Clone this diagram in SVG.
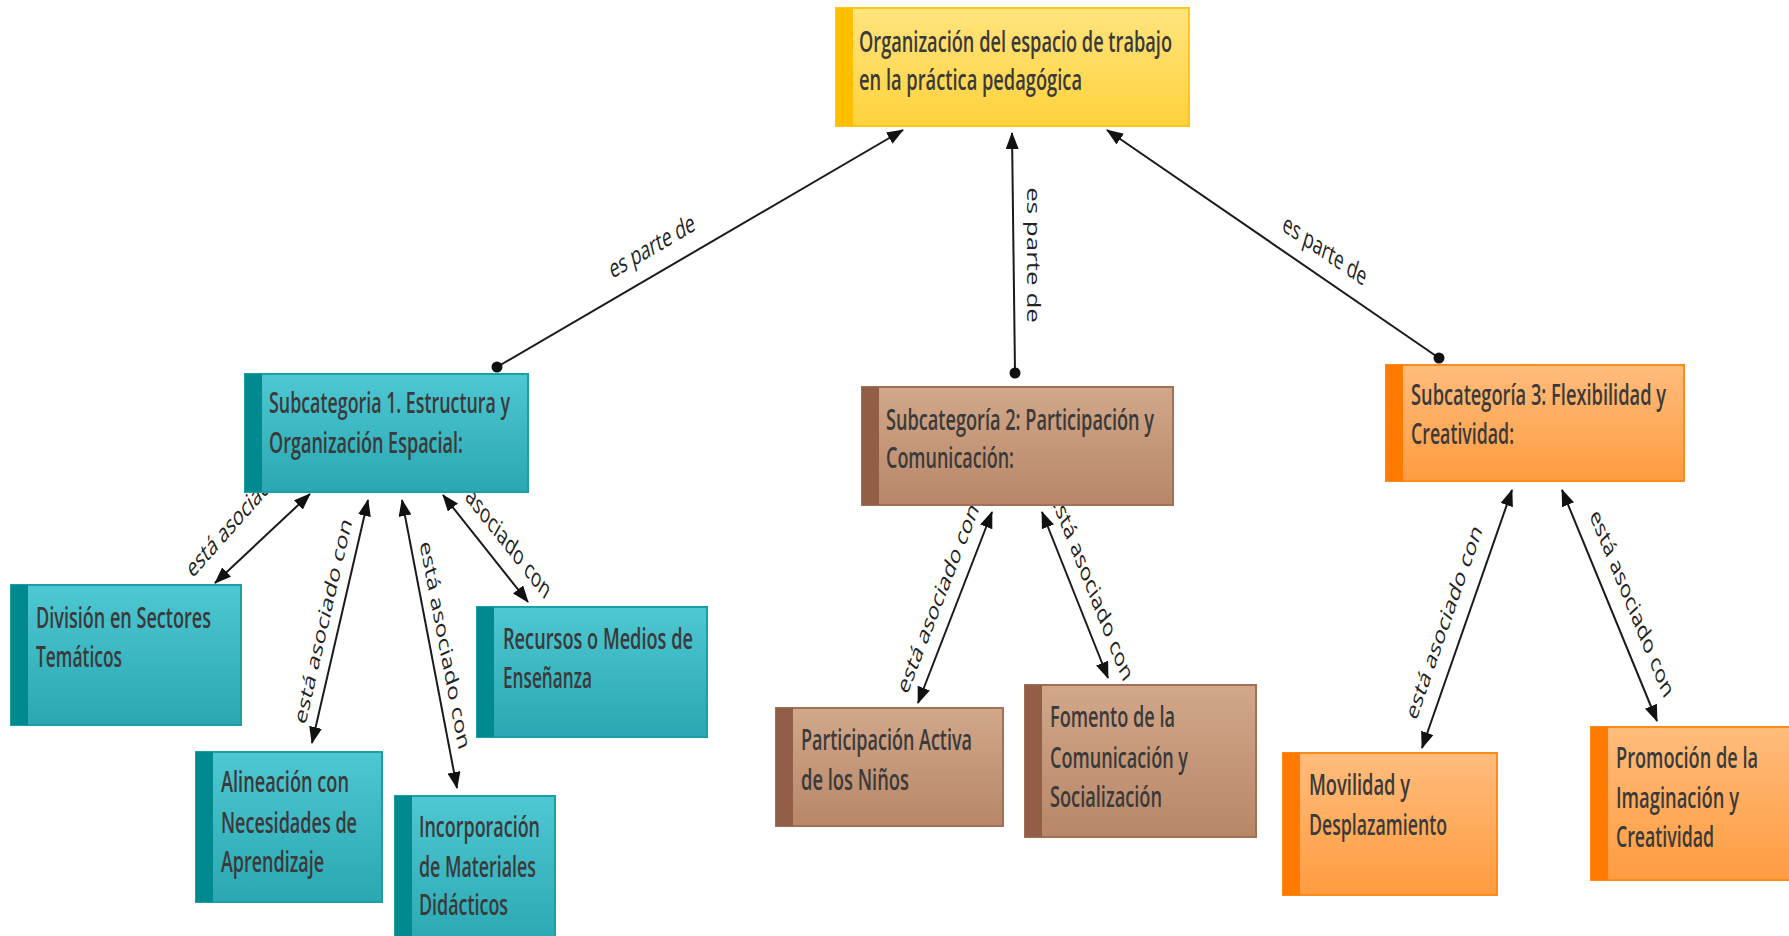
<svg xmlns="http://www.w3.org/2000/svg" width="1789" height="936" viewBox="0 0 1789 936">
<defs>
<linearGradient id="gY" x1="0" y1="0" x2="0" y2="1"><stop offset="0" stop-color="#ffe47e"/><stop offset="1" stop-color="#ffd23c"/></linearGradient>
<linearGradient id="gT" x1="0" y1="0" x2="0" y2="1"><stop offset="0" stop-color="#4ec8d2"/><stop offset="1" stop-color="#2aa7b2"/></linearGradient>
<linearGradient id="gB" x1="0" y1="0" x2="0" y2="1"><stop offset="0" stop-color="#d2a78a"/><stop offset="1" stop-color="#b78767"/></linearGradient>
<linearGradient id="gO" x1="0" y1="0" x2="0" y2="1"><stop offset="0" stop-color="#ffbc7c"/><stop offset="1" stop-color="#ff9c40"/></linearGradient>
<marker id="arr" viewBox="0 0 17 13" refX="16" refY="6.5" markerWidth="17" markerHeight="13" markerUnits="userSpaceOnUse" orient="auto-start-reverse"><path d="M0,0 L17,6.5 L0,13 z" fill="#111"/></marker>
<marker id="dot" viewBox="0 0 12 12" refX="6" refY="6" markerWidth="12" markerHeight="12" markerUnits="userSpaceOnUse"><circle cx="6" cy="6" r="5.5" fill="#111"/></marker>
<style>
.ln{stroke:#1a1a1a;stroke-width:2;fill:none}
.bi{marker-start:url(#arr);marker-end:url(#arr)}
.up{marker-start:url(#dot);marker-end:url(#arr)}
.lbl{font-family:"Open Sans","Liberation Sans",sans-serif;font-size:26px;fill:#222;text-anchor:middle}
.t{font-family:"Open Sans","Liberation Sans",sans-serif;font-size:28px;font-weight:600;fill:#3a3a3a}
.ny rect.b{fill:url(#gY);stroke:#ffc519;stroke-width:2}
.ny rect.s{fill:#ffbf00}
.nt rect.b{fill:url(#gT);stroke:#1c9ea6;stroke-width:2}
.nt rect.s{fill:#00898e}
.nb rect.b{fill:url(#gB);stroke:#a26f57;stroke-width:2}
.nb rect.s{fill:#935e48}
.no rect.b{fill:url(#gO);stroke:#ff8a1c;stroke-width:2}
.no rect.s{fill:#ff7a00}
</style>
</defs>
<rect width="1789" height="936" fill="#ffffff"/>

<g id="connectors">
<line class="ln up" x1="497" y1="367" x2="903" y2="130"/>
<line class="ln up" x1="1015" y1="373" x2="1012" y2="133"/>
<line class="ln up" x1="1439" y1="358" x2="1107" y2="130"/>
<line class="ln bi" x1="310" y1="494" x2="215" y2="583"/>
<line class="ln bi" x1="368" y1="500" x2="312" y2="743"/>
<line class="ln bi" x1="402" y1="500" x2="457" y2="788"/>
<line class="ln bi" x1="443" y1="495" x2="528" y2="602"/>
<line class="ln bi" x1="992" y1="512" x2="918" y2="703"/>
<line class="ln bi" x1="1042" y1="512" x2="1108" y2="678"/>
<line class="ln bi" x1="1512" y1="490" x2="1422" y2="748"/>
<line class="ln bi" x1="1562" y1="490" x2="1657" y2="721"/>
<text class="lbl" transform="translate(652,246) scale(0.667,1) rotate(-21.3)" y="9">es parte de</text>
<text class="lbl" transform="translate(1033,255) scale(0.667,1) rotate(90)" y="9">es parte de</text>
<text class="lbl" transform="translate(1325,250) scale(0.667,1) rotate(24.6)" y="9">es parte de</text>
<text class="lbl" transform="translate(246,507) scale(0.667,1) rotate(-37)" y="9">está asociado con</text>
<text class="lbl" transform="translate(323,621) scale(0.667,1) rotate(-71)" y="9">está asociado con</text>
<text class="lbl" transform="translate(445,645) scale(0.667,1) rotate(74.1)" y="9">está asociado con</text>
<text class="lbl" transform="translate(494,524) scale(0.667,1) rotate(40.1)" y="9">está asociado con</text>
<text class="lbl" transform="translate(938,598) scale(0.667,1) rotate(-59.8)" y="9">está asociado con</text>
<text class="lbl" transform="translate(1092,586) scale(0.667,1) rotate(59.2)" y="9">está asociado con</text>
<text class="lbl" transform="translate(1444,622) scale(0.667,1) rotate(-62.4)" y="9">está asociado con</text>
<text class="lbl" transform="translate(1632,603) scale(0.667,1) rotate(58.4)" y="9">está asociado con</text>
</g>

<g id="n-top" class="ny">
<rect class="b" x="836" y="8" width="353" height="118"/><rect class="s" x="836" y="8" width="17" height="118"/>
<text class="t" x="859" y="52" textLength="313" lengthAdjust="spacingAndGlyphs">Organización del espacio de trabajo</text>
<text class="t" x="859" y="90" textLength="223" lengthAdjust="spacingAndGlyphs">en la práctica pedagógica</text>
</g>

<g id="n-s1" class="nt">
<rect class="b" x="245" y="374" width="283" height="118"/><rect class="s" x="245" y="374" width="17" height="118"/>
<text class="t" x="269" y="413" textLength="241" lengthAdjust="spacingAndGlyphs">Subcategoria 1. Estructura y</text>
<text class="t" x="269" y="453" textLength="194" lengthAdjust="spacingAndGlyphs">Organización Espacial:</text>
</g>

<g id="n-s2" class="nb">
<rect class="b" x="862" y="387" width="311" height="118"/><rect class="s" x="862" y="387" width="17" height="118"/>
<text class="t" x="886" y="430" textLength="268" lengthAdjust="spacingAndGlyphs">Subcategoría 2: Participación y</text>
<text class="t" x="886" y="468" textLength="128" lengthAdjust="spacingAndGlyphs">Comunicación:</text>
</g>

<g id="n-s3" class="no">
<rect class="b" x="1386" y="365" width="298" height="116"/><rect class="s" x="1386" y="365" width="17" height="116"/>
<text class="t" x="1411" y="405" textLength="255" lengthAdjust="spacingAndGlyphs">Subcategoría 3: Flexibilidad y</text>
<text class="t" x="1411" y="444" textLength="103" lengthAdjust="spacingAndGlyphs">Creatividad:</text>
</g>

<g id="n-div" class="nt">
<rect class="b" x="11" y="585" width="230" height="140"/><rect class="s" x="11" y="585" width="17" height="140"/>
<text class="t" x="36" y="628" textLength="175" lengthAdjust="spacingAndGlyphs">División en Sectores</text>
<text class="t" x="36" y="667" textLength="86" lengthAdjust="spacingAndGlyphs">Temáticos</text>
</g>

<g id="n-ali" class="nt">
<rect class="b" x="196" y="752" width="186" height="150"/><rect class="s" x="196" y="752" width="17" height="150"/>
<text class="t" x="221" y="792" textLength="128" lengthAdjust="spacingAndGlyphs">Alineación con</text>
<text class="t" x="221" y="833" textLength="136" lengthAdjust="spacingAndGlyphs">Necesidades de</text>
<text class="t" x="221" y="872" textLength="103" lengthAdjust="spacingAndGlyphs">Aprendizaje</text>
</g>

<g id="n-inc" class="nt">
<rect class="b" x="395" y="796" width="160" height="152"/><rect class="s" x="395" y="796" width="17" height="152"/>
<text class="t" x="419" y="837" textLength="121" lengthAdjust="spacingAndGlyphs">Incorporación</text>
<text class="t" x="419" y="877" textLength="117" lengthAdjust="spacingAndGlyphs">de Materiales</text>
<text class="t" x="419" y="915" textLength="89" lengthAdjust="spacingAndGlyphs">Didácticos</text>
</g>

<g id="n-rec" class="nt">
<rect class="b" x="477" y="607" width="230" height="130"/><rect class="s" x="477" y="607" width="17" height="130"/>
<text class="t" x="503" y="649" textLength="190" lengthAdjust="spacingAndGlyphs">Recursos o Medios de</text>
<text class="t" x="503" y="688" textLength="89" lengthAdjust="spacingAndGlyphs">Enseñanza</text>
</g>

<g id="n-par" class="nb">
<rect class="b" x="776" y="708" width="227" height="118"/><rect class="s" x="776" y="708" width="17" height="118"/>
<text class="t" x="801" y="750" textLength="171" lengthAdjust="spacingAndGlyphs">Participación Activa</text>
<text class="t" x="801" y="790" textLength="108" lengthAdjust="spacingAndGlyphs">de los Niños</text>
</g>

<g id="n-fom" class="nb">
<rect class="b" x="1025" y="685" width="231" height="152"/><rect class="s" x="1025" y="685" width="17" height="152"/>
<text class="t" x="1050" y="727" textLength="125" lengthAdjust="spacingAndGlyphs">Fomento de la</text>
<text class="t" x="1050" y="768" textLength="138" lengthAdjust="spacingAndGlyphs">Comunicación y</text>
<text class="t" x="1050" y="807" textLength="112" lengthAdjust="spacingAndGlyphs">Socialización</text>
</g>

<g id="n-mov" class="no">
<rect class="b" x="1283" y="753" width="214" height="142"/><rect class="s" x="1283" y="753" width="17" height="142"/>
<text class="t" x="1309" y="795" textLength="101" lengthAdjust="spacingAndGlyphs">Movilidad y</text>
<text class="t" x="1309" y="835" textLength="138" lengthAdjust="spacingAndGlyphs">Desplazamiento</text>
</g>

<g id="n-pro" class="no">
<rect class="b" x="1591" y="727" width="210" height="153"/><rect class="s" x="1591" y="727" width="17" height="153"/>
<text class="t" x="1616" y="768" textLength="142" lengthAdjust="spacingAndGlyphs">Promoción de la</text>
<text class="t" x="1616" y="808" textLength="123" lengthAdjust="spacingAndGlyphs">Imaginación y</text>
<text class="t" x="1616" y="847" textLength="98" lengthAdjust="spacingAndGlyphs">Creatividad</text>
</g>
</svg>
